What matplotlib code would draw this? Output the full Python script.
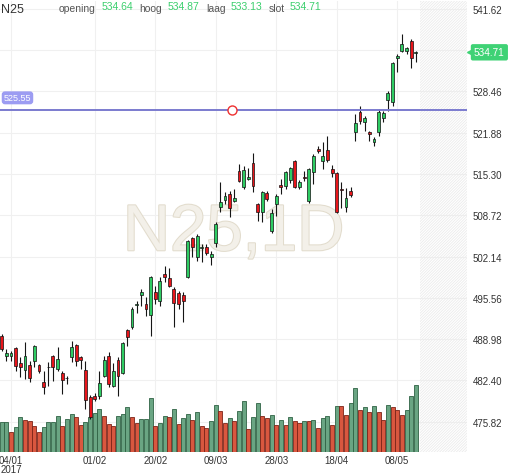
"""
N25 dagkoers (candlesticks + volume), jan - mei 2017
"""
import matplotlib
matplotlib.use("Agg")
import matplotlib.pyplot as plt
import matplotlib.patheffects as pe

plt.rcParams['font.family'] = ['Liberation Sans', 'DejaVu Sans']
plt.rcParams['hatch.linewidth'] = 0.6

# koersen per handelsdag (open / hoog / laag / slot)
opens = [489.47, 486.28, 486.28, 487.55, 485.16, 484.04, 484.84, 485.48, 484.84, 482.13,
         484.52, 486.28, 484.20, 483.57, 482.80, 486.12, 488.03, 486.12, 484.04, 479.74,
         479.90, 479.90, 483.09, 486.28, 481.49, 485.64, 483.57, 490.42, 490.90, 494.33,
         496.01, 494.57, 492.82, 496.49, 495.05, 499.36, 498.72, 496.97, 496.33, 496.01,
         498.88, 505.10, 502.07, 503.50, 503.66, 502.07, 504.30, 510.04, 511.16, 512.12,
         511.00, 515.79, 513.23, 514.51, 517.06, 510.52, 509.25, 512.28, 506.21, 510.52,
         513.55, 513.39, 514.35, 517.38, 513.23, 514.70, 511.00, 515.63, 519.29, 517.38,
         519.13, 516.10, 515.47, 512.80, 510.04, 512.60, 522.01, 525.20, 523.60, 522.01,
         520.41, 522.01, 524.24, 527.11, 526.79, 533.81, 534.93, 534.93, 536.52, 534.64]
highs = [489.78, 487.39, 487.07, 487.71, 486.12, 488.51, 485.48, 488.03, 485.00, 483.89,
         485.32, 486.40, 487.71, 483.89, 483.09, 488.67, 488.19, 486.28, 485.48, 480.06,
         480.38, 483.89, 486.28, 486.92, 485.16, 486.12, 488.51, 490.58, 494.09, 495.05,
         496.97, 495.69, 499.04, 497.44, 498.88, 500.63, 500.32, 497.28, 496.65, 496.49,
         504.78, 505.26, 505.74, 504.14, 504.14, 503.03, 507.65, 514.03, 512.44, 512.60,
         512.92, 516.90, 516.58, 516.26, 518.66, 510.68, 512.60, 512.60, 509.73, 512.12,
         514.51, 515.79, 516.42, 517.54, 514.35, 515.79, 516.26, 518.50, 519.77, 520.41,
         521.37, 516.74, 515.63, 514.03, 513.07, 513.23, 524.88, 526.15, 524.56, 522.17,
         521.21, 525.67, 525.36, 528.55, 533.17, 534.45, 537.64, 535.56, 536.84, 534.87]
lows = [487.07, 485.48, 485.48, 483.89, 482.93, 482.61, 482.13, 484.52, 483.57, 480.22,
        481.49, 482.29, 483.89, 480.22, 481.81, 485.32, 484.68, 484.20, 477.83, 476.23,
        479.10, 479.42, 482.93, 481.33, 481.33, 479.90, 483.41, 487.87, 490.58, 493.14,
        494.25, 492.66, 489.47, 494.57, 494.25, 498.08, 497.28, 490.90, 493.77, 491.70,
        498.72, 502.07, 501.43, 501.27, 502.39, 500.79, 503.66, 509.25, 510.52, 508.45,
        510.84, 514.03, 512.92, 514.35, 512.44, 507.81, 507.65, 511.00, 505.89, 508.61,
        512.12, 512.92, 513.87, 513.07, 512.92, 514.19, 510.68, 513.71, 518.66, 516.10,
        517.22, 514.83, 509.09, 509.88, 509.25, 511.64, 520.57, 523.28, 522.17, 520.57,
        519.77, 521.37, 523.60, 525.36, 526.15, 531.58, 534.77, 534.45, 532.21, 533.13]
closes = [487.39, 486.76, 486.76, 484.68, 484.52, 486.28, 482.77, 487.87, 483.89, 481.33,
          484.45, 484.52, 485.80, 482.45, 482.70, 487.71, 485.48, 485.64, 479.26, 476.55,
          479.42, 481.97, 485.64, 481.81, 483.89, 483.09, 488.35, 489.31, 493.77, 494.49,
          496.49, 493.77, 498.88, 495.37, 498.24, 498.88, 497.44, 494.73, 494.57, 495.05,
          504.62, 503.66, 505.42, 503.55, 502.71, 502.55, 507.33, 510.84, 511.80, 509.88,
          511.48, 514.19, 515.95, 514.83, 513.39, 509.25, 512.44, 511.32, 509.09, 511.80,
          513.23, 515.63, 516.26, 513.23, 514.03, 514.65, 516.10, 518.18, 518.98, 518.18,
          517.54, 515.47, 509.25, 512.75, 511.48, 511.96, 523.44, 523.76, 524.24, 521.69,
          520.89, 525.20, 525.04, 528.23, 533.01, 534.13, 536.04, 535.40, 533.81, 534.71]

# volume (mln), kleur zoals in de grafiek: g = stijgend, r = dalend
volumes = [2.97, 3.00, 2.03, 2.50, 3.50, 3.23, 3.13, 2.60, 2.00, 2.50,
           3.00, 3.00, 3.63, 2.63, 3.30, 3.80, 3.47, 2.70, 3.00, 3.47,
           3.87, 4.30, 3.63, 2.80, 2.63, 3.57, 3.80, 4.47, 3.47, 2.87,
           3.30, 3.30, 5.40, 2.63, 2.87, 3.63, 3.47, 4.30, 2.77, 3.37,
           3.80, 3.23, 4.03, 2.60, 2.37, 3.07, 4.73, 4.07, 2.87, 3.37,
           3.13, 4.13, 5.07, 2.30, 3.47, 4.90, 3.57, 3.40, 3.73, 2.70,
           3.20, 2.70, 3.47, 3.07, 2.90, 3.13, 3.13, 3.20, 2.40, 3.37,
           3.63, 2.70, 4.63, 4.57, 3.73, 4.90, 6.37, 4.23, 4.47, 4.03,
           4.63, 4.03, 3.20, 4.73, 4.47, 4.23, 3.70, 4.23, 5.63, 6.73]
vol_dir = ("ggrggrrrrg" "gggrggrrgg" "ggrrrgggrr" "gggrggrgrg" "grgrrggrrg"
           "rggrggrrgr" "grgrrgrgrg" "grgrrggrgr" "grrgrrrggg")

date_pos = [2, 20, 33, 46, 59, 72, 85]
date_labels = ["04/01\n2017", "01/02", "20/02", "09/03", "28/03", "18/04", "08/05"]
price_ticks = [475.82, 482.40, 488.98, 495.56, 502.14, 508.72, 515.30, 521.88, 528.46, 535.04, 541.62]
hidden_tick = 535.04   # valt onder het label van de slotkoers
level = 525.55
level_marker_x = 49.5

header = [("opening", 534.64), ("hoog", 534.87), ("laag", 533.13), ("slot", 534.71)]

UP = "#2ecc63"
DOWN = "#e8151b"
VOL_UP, VOL_UP_EDGE = "#6aa583", "#2f6244"
VOL_DN, VOL_DN_EDGE = "#d9573f", "#7d2418"
VOL_AXIS_MAX = 45.1


def main():
    fig = plt.figure(figsize=(5.12, 4.77), dpi=100)
    ax = fig.add_axes([0, 24 / 477, 467 / 512, 451 / 477])
    n = len(opens)
    xs = list(range(n))

    # grid + toekomstzone
    for p in price_ticks:
        ax.axhline(p, color="#f0f0f0", lw=0.8, zorder=0)
    for d in date_pos:
        ax.axvline(d, color="#f0f0f0", lw=0.8, zorder=0)
    ax.axvspan(n - 0.1, 100.5, facecolor="none", edgecolor="#ebebeb",
               hatch="////////////", lw=0, zorder=0)

    # watermerk
    ax.text(0.5, 0.485, "N25,1D", transform=ax.transAxes, ha="center", va="center",
            fontsize=47, color="#f3f0e9", zorder=1,
            path_effects=[pe.withStroke(linewidth=1.5, foreground="#e2dccd")])

    # volume onderin
    vcol = [VOL_UP if c == "g" else VOL_DN for c in vol_dir]
    vedge = [VOL_UP_EDGE if c == "g" else VOL_DN_EDGE for c in vol_dir]
    ax.bar(xs, [v / VOL_AXIS_MAX for v in volumes], width=0.86, bottom=0,
           color=vcol, edgecolor=vedge, linewidth=0.6,
           transform=ax.get_xaxis_transform(), zorder=2)

    # candlesticks
    ax.vlines(xs, lows, highs, color="#151515", lw=0.8, zorder=3)
    body_lo = [min(o, c) for o, c in zip(opens, closes)]
    body_h = [max(abs(c - o), 0.12) for o, c in zip(opens, closes)]
    colors = [UP if c >= o else DOWN for o, c in zip(opens, closes)]
    ax.bar(xs, body_h, bottom=body_lo, width=0.62, color=colors,
           edgecolor="#111111", linewidth=0.5, zorder=4)

    # horizontale lijn
    ax.axhline(level, color="#7b7bcf", lw=1.4, zorder=5)
    ax.plot([level_marker_x], [level], marker="o", ms=6.5, mfc="white",
            mec="#ee3030", mew=1.0, zorder=6)
    ax.text(0.008, level + 1.9, f"{level:.2f}", transform=ax.get_yaxis_transform(),
            ha="left", va="center", fontsize=6.5, color="white", zorder=7,
            bbox=dict(boxstyle="round,pad=0.22,rounding_size=0.35",
                      fc="#9c9cf2", ec="none"))

    ax.set_xlim(-0.37, 100)
    ax.set_ylim(470.955, 542.896)

    ax.yaxis.tick_right()
    ax.set_yticks(price_ticks)
    ax.set_yticklabels(["" if p == hidden_tick else f"{p:.2f}" for p in price_ticks])
    ax.set_xticks(date_pos)
    ax.set_xticklabels(date_labels, linespacing=0.95)
    ax.tick_params(axis="y", length=0, pad=4, labelsize=7, labelcolor="#333333")
    ax.tick_params(axis="x", length=0, pad=2, labelsize=7, labelcolor="#333333")
    for s in ax.spines.values():
        s.set_visible(False)

    # label slotkoers rechts
    last = closes[-1]
    ax.text(1.015, last, f"{last:.2f}", transform=ax.get_yaxis_transform(),
            ha="left", va="center", fontsize=7.2, color="white", zorder=7, clip_on=False,
            bbox=dict(boxstyle="round,pad=0.32,rounding_size=0.2", fc="#3fd275", ec="none"))
    ax.plot([1.006], [last], marker="<", ms=5, color="#3fd275",
            transform=ax.get_yaxis_transform(), clip_on=False, zorder=7)

    # kop
    fig.text(1 / 512, 1 - 13 / 477, "N25", fontsize=9, color="#333333", va="baseline")
    xpos = [(59, 102), (139, 168), (206, 231), (269, 290)]
    for (lbl, val), (xl, xv) in zip(header, xpos):
        fig.text(xl / 512, 1 - 12 / 477, lbl, fontsize=7.5, color="#555555", va="baseline")
        fig.text(xv / 512, 1 - 10 / 477, f"{val:.2f}", fontsize=7.5, color="#3ccf6e",
                 va="baseline")

    fig.savefig("out.png", dpi=100)


if __name__ == "__main__":
    main()
